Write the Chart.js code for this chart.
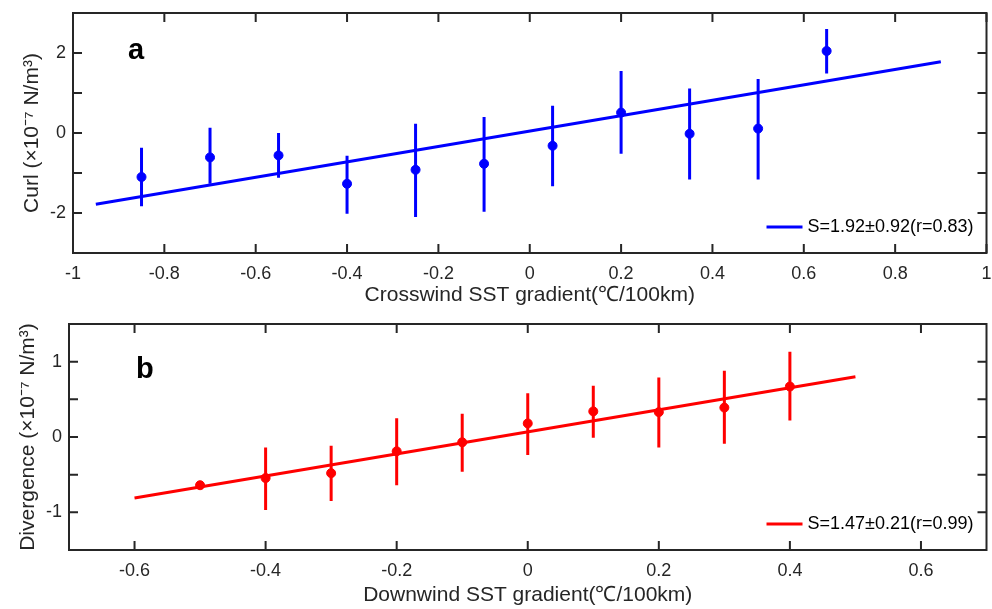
<!DOCTYPE html>
<html>
<head>
<meta charset="utf-8">
<script src="https://cdn.jsdelivr.net/npm/chart.js@4.4.0/dist/chart.umd.min.js"></script>
<style>
  html, body { margin: 0; padding: 0; background: #fff; }
  #panelA { position: absolute; left: 0; top: 0; }
  #panelB { position: absolute; left: 0; top: 308px; }
</style>
</head>
<body>
<canvas id="panelA" width="992" height="308"></canvas>
<canvas id="panelB" width="992" height="301"></canvas>
<script>
// Panel a : curl vs crosswind SST gradient
const crossX    = [-0.85, -0.7, -0.55, -0.4, -0.25, -0.1, 0.05, 0.2, 0.35, 0.5, 0.65];
const curlMean  = [-1.10, -0.61, -0.56, -1.27, -0.92, -0.77, -0.32, 0.51, -0.02, 0.11, 2.05];
const curlLow   = [-1.83, -1.27, -1.12, -2.02, -2.10, -1.97, -1.33, -0.52, -1.16, -1.16, 1.49];
const curlHigh  = [-0.37, 0.13, 0.00, -0.57, 0.23, 0.40, 0.68, 1.55, 1.11, 1.35, 2.60];
const curlFitX  = [-0.95, 0.9];
const curlFitY  = [-1.78, 1.78];
const crossTicks = [-1, -0.8, -0.6, -0.4, -0.2, 0, 0.2, 0.4, 0.6, 0.8, 1];
const crossTickLabels = ["-1", "-0.8", "-0.6", "-0.4", "-0.2", "0", "0.2", "0.4", "0.6", "0.8", "1"];
const curlTicks = [-3, -2, -1, 0, 1, 2, 3];
const curlTickLabels = ["", "-2", "", "0", "", "2", ""];
const curlLegend = "S=1.92±0.92(r=0.83)";

// Panel b : divergence vs downwind SST gradient
const downX    = [-0.5, -0.4, -0.3, -0.2, -0.1, 0, 0.1, 0.2, 0.3, 0.4];
const divMean  = [-0.64, -0.545, -0.48, -0.19, -0.07, 0.18, 0.34, 0.33, 0.39, 0.67];
const divLow   = [-0.66, -0.97, -0.85, -0.64, -0.46, -0.24, -0.01, -0.14, -0.09, 0.22];
const divHigh  = [-0.62, -0.14, -0.115, 0.25, 0.31, 0.58, 0.68, 0.79, 0.88, 1.13];
const divFitX  = [-0.6, 0.5];
const divFitY  = [-0.81, 0.80];
const downTicks = [-0.6, -0.4, -0.2, 0, 0.2, 0.4, 0.6];
const downTickLabels = ["-0.6", "-0.4", "-0.2", "0", "0.2", "0.4", "0.6"];
const divTicks = [-1.5, -1, -0.5, 0, 0.5, 1, 1.5];
const divTickLabels = ["", "-1", "", "0", "", "1", ""];
const divLegend = "S=1.47±0.21(r=0.99)";

const FONT = '"Liberation Sans", Arial, sans-serif';
Chart.defaults.font.family = FONT;
Chart.defaults.color = "#262626";

// box, inward ticks, panel letter and legend, MATLAB style
const matlabBox = {
  id: "matlabBox",
  beforeDatasetsDraw(chart, args, opts) {
    const { ctx, chartArea: a, scales: { x, y } } = chart;
    ctx.save();
    ctx.strokeStyle = "#262626";
    ctx.lineWidth = 2;
    ctx.beginPath();
    x.ticks.forEach(t => {
      const px = x.getPixelForValue(t.value);
      ctx.moveTo(px, a.bottom); ctx.lineTo(px, a.bottom - 9);
      ctx.moveTo(px, a.top); ctx.lineTo(px, a.top + 9);
    });
    y.ticks.forEach(t => {
      const py = y.getPixelForValue(t.value);
      ctx.moveTo(a.left, py); ctx.lineTo(a.left + 9, py);
      ctx.moveTo(a.right, py); ctx.lineTo(a.right - 9, py);
    });
    ctx.stroke();
    ctx.strokeRect(a.left, a.top, a.right - a.left, a.bottom - a.top);
    ctx.restore();
  },
  afterDatasetsDraw(chart, args, opts) {
    const { ctx, chartArea: a } = chart;
    ctx.save();
    ctx.fillStyle = "#000";
    ctx.font = "bold 29px " + FONT;
    ctx.textBaseline = "alphabetic";
    ctx.fillText(opts.letter, a.left + opts.letterDx, a.top + opts.letterDy);

    ctx.font = "18px " + FONT;
    ctx.textAlign = "right";
    ctx.textBaseline = "middle";
    const ty = a.bottom - 26;
    const tr = a.right - 13;
    const w = ctx.measureText(opts.legendText).width;
    ctx.fillText(opts.legendText, tr, ty);
    ctx.strokeStyle = opts.legendColor;
    ctx.lineWidth = 3;
    ctx.beginPath();
    ctx.moveTo(tr - w - 41, ty);
    ctx.lineTo(tr - w - 5, ty);
    ctx.stroke();
    ctx.restore();
  }
};

function buildChart(id, cfg) {
  const datasets = [];
  datasets.push({
    data: cfg.fitX.map((v, i) => ({ x: v, y: cfg.fitY[i] })),
    showLine: true, borderColor: cfg.color, borderWidth: 3, pointRadius: 0
  });
  cfg.xs.forEach((v, i) => {
    datasets.push({
      data: [{ x: v, y: cfg.low[i] }, { x: v, y: cfg.high[i] }],
      showLine: true, borderColor: cfg.color, borderWidth: 3, pointRadius: 0,
      borderCapStyle: "butt"
    });
  });
  datasets.push({
    data: cfg.xs.map((v, i) => ({ x: v, y: cfg.mean[i] })),
    showLine: false, pointRadius: 4.5, pointBorderWidth: 1,
    pointBackgroundColor: cfg.color, pointBorderColor: cfg.color
  });

  return new Chart(document.getElementById(id), {
    type: "scatter",
    data: { datasets: datasets },
    options: {
      responsive: false,
      animation: false,
      layout: { padding: cfg.padding },
      plugins: {
        legend: { display: false },
        tooltip: { enabled: false },
        matlabBox: {
          letter: cfg.letter, letterDx: cfg.letterDx, letterDy: cfg.letterDy,
          legendText: cfg.legendText, legendColor: cfg.color
        }
      },
      scales: {
        x: {
          type: "linear", min: cfg.xMin, max: cfg.xMax,
          grid: { display: false, drawTicks: false },
          border: { display: false },
          afterBuildTicks: s => { s.ticks = cfg.xTicks.map(v => ({ value: v })); },
          afterFit: s => { s.height = cfg.xHeight; s.paddingLeft = 0; s.paddingRight = 0; },
          ticks: {
            autoSkip: false, maxRotation: 0, padding: 10,
            font: { size: 18 }, color: "#262626",
            callback: (v, i) => cfg.xLabels[i]
          },
          title: {
            display: true, text: cfg.xTitle, color: "#262626",
            font: { size: 21 }, padding: { top: 0, bottom: 0 }
          }
        },
        y: {
          type: "linear", min: cfg.yMin, max: cfg.yMax,
          grid: { display: false, drawTicks: false },
          border: { display: false },
          afterBuildTicks: s => { s.ticks = cfg.yTicks.map(v => ({ value: v })); },
          afterFit: s => { s.width = cfg.yWidth; s.paddingTop = 0; s.paddingBottom = 0; },
          ticks: {
            autoSkip: false, padding: 7,
            font: { size: 18 }, color: "#262626",
            callback: (v, i) => cfg.yLabels[i]
          },
          title: {
            display: true, text: cfg.yTitle, color: "#262626",
            font: { size: 21 }, padding: { top: cfg.yTitlePad, bottom: 0 }
          }
        }
      }
    },
    plugins: [matlabBox]
  });
}

buildChart("panelA", {
  xs: crossX, mean: curlMean, low: curlLow, high: curlHigh,
  fitX: curlFitX, fitY: curlFitY, color: "#0000ff",
  xMin: -1, xMax: 1, yMin: -3, yMax: 3,
  xTicks: crossTicks, xLabels: crossTickLabels,
  yTicks: curlTicks, yLabels: curlTickLabels,
  xTitle: "Crosswind SST gradient(℃/100km)",
  yTitle: "Curl (×10⁻⁷ N/m³)",
  padding: { left: 0, right: 5, top: 13, bottom: 0 },
  xHeight: 55, yWidth: 73, yTitlePad: 20,
  letter: "a", letterDx: 55, letterDy: 46,
  legendText: curlLegend
});

buildChart("panelB", {
  xs: downX, mean: divMean, low: divLow, high: divHigh,
  fitX: divFitX, fitY: divFitY, color: "#ff0000",
  xMin: -0.7, xMax: 0.7, yMin: -1.5, yMax: 1.5,
  xTicks: downTicks, xLabels: downTickLabels,
  yTicks: divTicks, yLabels: divTickLabels,
  xTitle: "Downwind SST gradient(℃/100km)",
  yTitle: "Divergence (×10⁻⁷ N/m³)",
  padding: { left: 0, right: 2, top: 16, bottom: 1 },
  xHeight: 58, yWidth: 69, yTitlePad: 16,
  letter: "b", letterDx: 67, letterDy: 54,
  legendText: divLegend
});
</script>
</body>
</html>
